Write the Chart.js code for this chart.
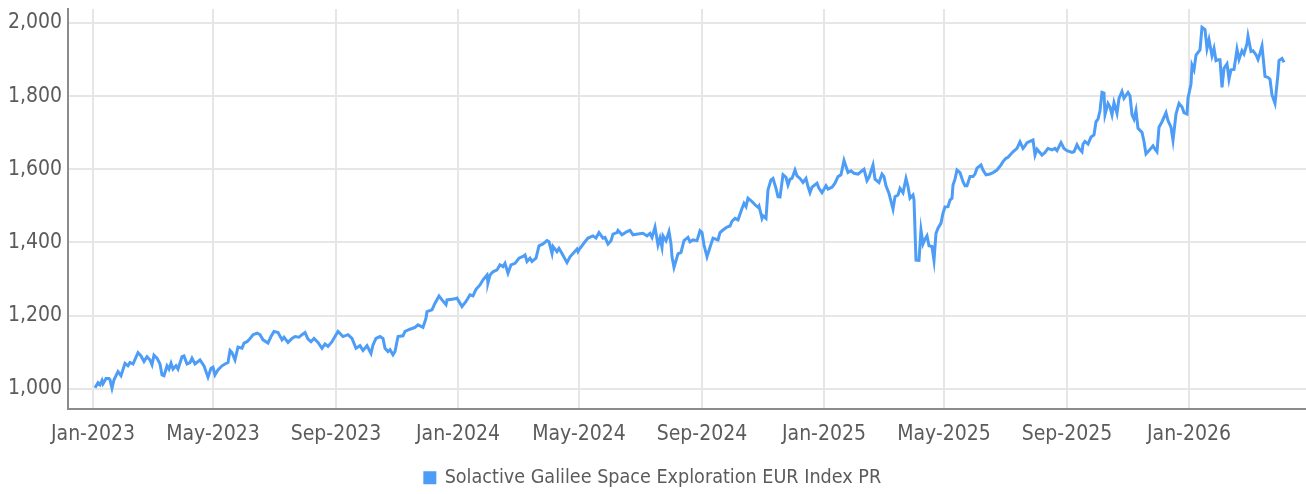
<!DOCTYPE html>
<html>
<head>
<meta charset="utf-8">
<script src="https://cdn.jsdelivr.net/npm/chart.js@4.4.1/dist/chart.umd.min.js"></script>
<style>
  html, body { margin: 0; padding: 0; background: #fff; }
  #chart { display: block; }
</style>
</head>
<body>
<canvas id="chart" width="1306" height="494"></canvas>
<script>
// Solactive Galilee Space Exploration EUR Index PR, levels
const seriesName = 'Solactive Galilee Space Exploration EUR Index PR';

const dates = [
  '2023-01-03','2023-01-06','2023-01-08','2023-01-10','2023-01-11','2023-01-14','2023-01-17','2023-01-18','2023-01-20','2023-01-22',
  '2023-01-26','2023-01-29','2023-02-02','2023-02-05','2023-02-07','2023-02-10','2023-02-15','2023-02-18','2023-02-21','2023-02-24',
  '2023-02-27','2023-03-01','2023-03-03','2023-03-06','2023-03-09','2023-03-11','2023-03-13','2023-03-16','2023-03-18','2023-03-20',
  '2023-03-22','2023-03-25','2023-03-27','2023-03-31','2023-04-02','2023-04-05','2023-04-08','2023-04-10','2023-04-13','2023-04-18',
  '2023-04-22','2023-04-26','2023-04-29','2023-05-01','2023-05-03','2023-05-06','2023-05-10','2023-05-13','2023-05-16','2023-05-18',
  '2023-05-20','2023-05-23','2023-05-26','2023-05-30','2023-06-01','2023-06-04','2023-06-06','2023-06-10','2023-06-14','2023-06-17',
  '2023-06-20','2023-06-25','2023-06-28','2023-07-01','2023-07-05','2023-07-09','2023-07-11','2023-07-15','2023-07-19','2023-07-22',
  '2023-07-26','2023-07-29','2023-08-01','2023-08-04','2023-08-07','2023-08-10','2023-08-14','2023-08-18','2023-08-21','2023-08-24',
  '2023-08-28','2023-08-31','2023-09-03','2023-09-08','2023-09-13','2023-09-17','2023-09-21','2023-09-25','2023-09-28','2023-10-02',
  '2023-10-06','2023-10-08','2023-10-11','2023-10-15','2023-10-18','2023-10-20','2023-10-23','2023-10-25','2023-10-28','2023-10-30',
  '2023-11-02','2023-11-07','2023-11-09','2023-11-14','2023-11-19','2023-11-22','2023-11-27','2023-11-30','2023-12-01','2023-12-06',
  '2023-12-09','2023-12-13','2023-12-16','2023-12-20','2023-12-21','2023-12-26','2023-12-29','2023-12-31',
  '2024-01-05','2024-01-09','2024-01-13','2024-01-16','2024-01-19','2024-01-23','2024-01-26','2024-01-30','2024-01-31','2024-02-02',
  '2024-02-05','2024-02-09','2024-02-12','2024-02-15','2024-02-17','2024-02-20','2024-02-23','2024-02-27','2024-03-02','2024-03-06',
  '2024-03-08','2024-03-10','2024-03-13','2024-03-15','2024-03-19','2024-03-22','2024-03-26','2024-03-30','2024-04-01','2024-04-04',
  '2024-04-05','2024-04-09','2024-04-11','2024-04-14','2024-04-19','2024-04-22','2024-04-25','2024-04-29','2024-04-30','2024-05-02',
  '2024-05-07','2024-05-10','2024-05-15','2024-05-18','2024-05-21','2024-05-25','2024-05-27','2024-05-30','2024-06-02','2024-06-04',
  '2024-06-08','2024-06-09','2024-06-13','2024-06-18','2024-06-21','2024-06-24','2024-06-29','2024-07-04','2024-07-08','2024-07-11',
  '2024-07-13','2024-07-16','2024-07-19','2024-07-21','2024-07-23','2024-07-24','2024-07-27','2024-07-30','2024-08-01','2024-08-02',
  '2024-08-04','2024-08-08','2024-08-11','2024-08-14','2024-08-18','2024-08-20','2024-08-23','2024-08-27','2024-08-30','2024-09-01',
  '2024-09-03','2024-09-06','2024-09-09','2024-09-12','2024-09-17','2024-09-19','2024-09-22','2024-09-26','2024-09-29','2024-10-01',
  '2024-10-04','2024-10-07','2024-10-11','2024-10-13','2024-10-15','2024-10-17','2024-10-21','2024-10-24','2024-10-27','2024-10-28',
  '2024-10-31','2024-11-01','2024-11-04','2024-11-06','2024-11-09','2024-11-11','2024-11-14','2024-11-16','2024-11-18','2024-11-21',
  '2024-11-24','2024-11-26','2024-11-28','2024-11-30','2024-12-03','2024-12-05','2024-12-08','2024-12-11','2024-12-14','2024-12-16',
  '2024-12-18','2024-12-20','2024-12-25','2024-12-27','2024-12-30',
  '2025-01-03','2025-01-05','2025-01-09','2025-01-12','2025-01-15','2025-01-18','2025-01-21','2025-01-25','2025-01-28','2025-01-31',
  '2025-02-04','2025-02-08','2025-02-10','2025-02-13','2025-02-15','2025-02-19','2025-02-21','2025-02-25','2025-02-28','2025-03-02',
  '2025-03-04','2025-03-07','2025-03-11','2025-03-13','2025-03-16','2025-03-18','2025-03-21','2025-03-24','2025-03-26','2025-03-28',
  '2025-03-31','2025-04-01','2025-04-03','2025-04-06','2025-04-08','2025-04-10','2025-04-12','2025-04-14','2025-04-16','2025-04-19',
  '2025-04-21','2025-04-23','2025-04-25','2025-04-28','2025-04-30','2025-05-02','2025-05-05','2025-05-07','2025-05-09','2025-05-10',
  '2025-05-12','2025-05-14','2025-05-17','2025-05-20','2025-05-22','2025-05-24','2025-05-27','2025-05-30','2025-06-01','2025-06-03',
  '2025-06-07','2025-06-09','2025-06-12','2025-06-16','2025-06-19','2025-06-23','2025-06-27','2025-06-29','2025-07-02','2025-07-04',
  '2025-07-09','2025-07-13','2025-07-16','2025-07-19','2025-07-21','2025-07-23','2025-07-29','2025-07-31','2025-08-02','2025-08-07',
  '2025-08-10','2025-08-13','2025-08-17','2025-08-20','2025-08-22','2025-08-26','2025-08-29','2025-09-01','2025-09-06','2025-09-08',
  '2025-09-11','2025-09-13','2025-09-16','2025-09-17','2025-09-19','2025-09-22','2025-09-25','2025-09-28','2025-09-30','2025-10-02',
  '2025-10-04','2025-10-06','2025-10-08','2025-10-09','2025-10-12','2025-10-14','2025-10-16','2025-10-18','2025-10-21','2025-10-23',
  '2025-10-26','2025-10-28','2025-11-01','2025-11-03','2025-11-05','2025-11-07','2025-11-09','2025-11-11','2025-11-15','2025-11-17',
  '2025-11-19','2025-11-22','2025-11-26','2025-11-28','2025-11-30','2025-12-02','2025-12-05','2025-12-09','2025-12-11','2025-12-14',
  '2025-12-16','2025-12-19','2025-12-22','2025-12-25','2025-12-27','2025-12-30','2025-12-31',
  '2026-01-03','2026-01-04','2026-01-06','2026-01-08','2026-01-12','2026-01-14','2026-01-17','2026-01-19','2026-01-21','2026-01-24',
  '2026-01-26','2026-01-28','2026-01-30','2026-02-01','2026-02-03','2026-02-05','2026-02-08','2026-02-10','2026-02-12','2026-02-15',
  '2026-02-18','2026-02-20','2026-02-23','2026-02-25','2026-02-28','2026-03-01','2026-03-04','2026-03-06','2026-03-09','2026-03-11',
  '2026-03-13','2026-03-15','2026-03-18','2026-03-21','2026-03-23','2026-03-25','2026-03-28','2026-03-31','2026-04-01','2026-04-04',
  '2026-04-06'
];

const values = [
  1003,1017,1011,1023,1014,1028,1028,1025,1002,1025,
  1047,1036,1070,1063,1072,1068,1099,1090,1075,1088,
  1079,1066,1092,1084,1068,1038,1036,1063,1054,1070,
  1054,1063,1054,1088,1090,1068,1072,1084,1068,1079,
  1063,1032,1056,1059,1038,1052,1063,1068,1072,1105,
  1099,1079,1114,1111,1125,1129,1134,1148,1152,1148,
  1134,1125,1143,1157,1154,1134,1141,1127,1138,1143,
  1141,1148,1154,1136,1129,1138,1127,1111,1123,1116,
  1129,1143,1157,1143,1148,1138,1111,1118,1105,1118,
  1097,1120,1138,1143,1138,1111,1102,1107,1093,1102,
  1143,1145,1157,1163,1168,1175,1168,1193,1211,1216,
  1234,1254,1243,1230,1243,1245,1246,1248,
  1225,1239,1257,1254,1272,1284,1298,1311,1290,1311,
  1320,1325,1339,1334,1343,1316,1339,1343,1357,1362,
  1366,1348,1357,1348,1357,1391,1396,1405,1402,1370,
  1389,1375,1384,1370,1345,1361,1370,1382,1375,1384,
  1402,1412,1418,1412,1427,1412,1414,1396,1405,1423,
  1427,1433,1421,1430,1433,1421,1423,1425,1418,1425,
  1414,1442,1393,1412,1387,1418,1405,1430,1396,1361,
  1332,1369,1373,1405,1414,1402,1407,1405,1432,1427,
  1393,1361,1387,1412,1407,1427,1434,1442,1445,1458,
  1466,1462,1493,1507,1498,1521,1512,1503,1496,1500,
  1466,1473,1466,1544,1571,1575,1548,1525,1524,1585,
  1578,1557,1573,1575,1598,1582,1575,1564,1575,1553,
  1536,1551,1562,1548,1536,
  1555,1546,1551,1562,1580,1585,1624,1591,1596,1589,
  1587,1596,1600,1569,1578,1612,1573,1564,1587,1580,
  1555,1534,1491,1525,1530,1548,1536,1575,1553,1521,
  1530,1516,1352,1351,1434,1396,1409,1418,1391,1389,
  1351,1425,1439,1453,1480,1497,1498,1516,1521,1557,
  1573,1598,1591,1566,1555,1555,1580,1580,1587,1603,
  1612,1598,1585,1587,1591,1598,1612,1621,1630,1633,
  1648,1657,1675,1657,1664,1673,1680,1639,1655,1639,
  1646,1657,1653,1657,1651,1673,1657,1651,1646,1648,
  1667,1657,1648,1669,1676,1669,1688,1694,1730,1737,
  1760,1810,1808,1749,1780,1770,1749,1782,1753,1794,
  1813,1794,1810,1801,1749,1737,1761,1712,1701,1676,
  1642,1651,1664,1655,1648,1715,1730,1755,1733,1715,
  1679,1751,1780,1770,1755,1751,1794,
  1833,1885,1872,1912,1926,1988,1982,1930,1954,1910,
  1930,1897,1899,1899,1824,1876,1888,1846,1872,1873,
  1928,1900,1924,1915,1943,1964,1922,1924,1913,1900,
  1917,1937,1854,1851,1846,1803,1780,1861,1897,1903,
  1892
];

const tickDates = ['2023-01-01','2023-05-01','2023-09-01','2024-01-01','2024-05-01','2024-09-01','2025-01-01','2025-05-01','2025-09-01','2026-01-01'];
const tickLabels = ['Jan-2023','May-2023','Sep-2023','Jan-2024','May-2024','Sep-2024','Jan-2025','May-2025','Sep-2025','Jan-2026'];
const yTicks = [1000, 1200, 1400, 1600, 1800, 2000];

// days since 2023-01-01
function dayNum(s) {
  const [y, m, d] = s.split('-').map(Number);
  return (Date.UTC(y, m - 1, d) - Date.UTC(2023, 0, 1)) / 86400000;
}

const FONT = "'DejaVu Sans Condensed', sans-serif";
const TEXT = '#5b5b5b';
const GRID = '#e6e6e6';
const AXIS = '#8c8c8c';

// fixed legend height
const legendHeight = {
  id: 'legendHeight',
  beforeInit(chart) {
    const fit = chart.legend.fit;
    chart.legend.fit = function () {
      fit.bind(chart.legend)();
      this.height = 35;
    };
  }
};

new Chart(document.getElementById('chart'), {
  type: 'line',
  data: {
    datasets: [{
      label: seriesName,
      data: dates.map((d, i) => ({ x: dayNum(d), y: values[i] })),
      borderColor: '#4d9df7',
      backgroundColor: '#4d9df7',
      borderWidth: 3,
      pointRadius: 0,
      tension: 0,
      fill: false
    }]
  },
  options: {
    responsive: false,
    animation: false,
    devicePixelRatio: 1,
    layout: { padding: { top: 9, left: 0, right: 0, bottom: 0 } },
    plugins: {
      tooltip: { enabled: false },
      legend: {
        position: 'bottom',
        labels: {
          color: TEXT,
          font: { family: FONT, size: 19.6 },
          boxWidth: 10,
          boxHeight: 10,
          padding: 9
        }
      }
    },
    scales: {
      x: {
        type: 'linear',
        min: -25,
        max: 1213,
        afterBuildTicks: scale => {
          scale.ticks = tickDates.map(d => ({ value: dayNum(d) }));
        },
        afterFit: scale => {
          scale.height = 50;
          scale.paddingLeft = 0;
          scale.paddingRight = 0;
        },
        grid: { color: GRID, lineWidth: 2, drawTicks: false },
        border: { color: AXIS, width: 2 },
        ticks: {
          autoSkip: false,
          maxRotation: 0,
          padding: 13,
          color: TEXT,
          font: { family: FONT, size: 21 },
          callback: (v, i) => tickLabels[i]
        }
      },
      y: {
        min: 945,
        max: 2038,
        afterBuildTicks: scale => {
          scale.ticks = yTicks.map(v => ({ value: v }));
        },
        afterFit: scale => {
          scale.width = 68;
          scale.paddingTop = 0;
          scale.paddingBottom = 0;
        },
        grid: { color: GRID, lineWidth: 2, drawTicks: false },
        border: { color: AXIS, width: 2 },
        ticks: {
          padding: 6,
          color: TEXT,
          font: { family: FONT, size: 21 },
          callback: v => v.toLocaleString('en-US')
        }
      }
    }
  },
  plugins: [legendHeight]
});
</script>
</body>
</html>
